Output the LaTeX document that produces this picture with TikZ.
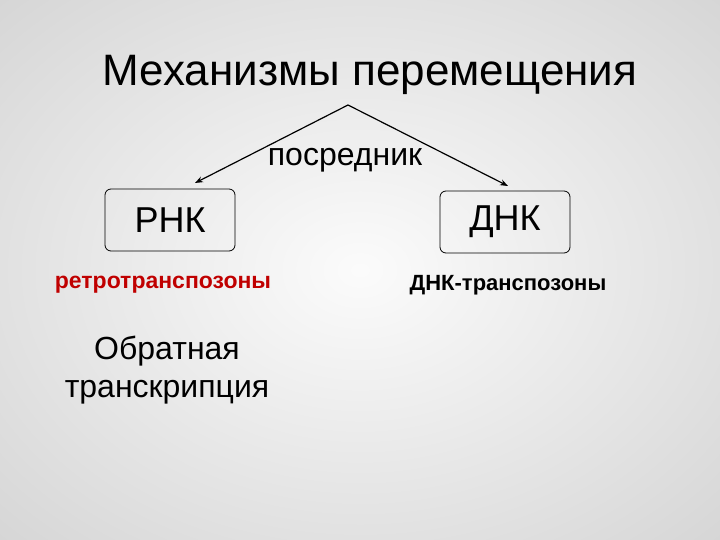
\documentclass[tikz,border=0pt]{standalone}
\usepackage{fontspec}
\setmainfont{Liberation Sans}
\usetikzlibrary{arrows.meta}
\definecolor{dred}{RGB}{192,0,0}
\begin{document}
\begin{tikzpicture}[x=1pt,y=-1pt,
  box/.style={draw,thick,rounded corners=6pt,minimum width=130pt,minimum height=62pt,font=\fontsize{36}{40}\selectfont},
  arr/.style={very thick,-{Stealth[length=8pt,width=6pt]}}]
\useasboundingbox (0,0) rectangle (720,540);
\shade[inner color=white!97!gray,outer color=gray!35] (-200,-150) rectangle (920,690);
\node (title) at (370,75) {\fontsize{44}{48}\selectfont Механизмы перемещения};
\coordinate (apex) at (348,105);
\node (posr) at (345,160) {\fontsize{32}{36}\selectfont посредник};
\node[box] (rnk) at (170,220) {РНК};
\node[box] (dnk) at (505,222) {ДНК};
\draw[arr] (apex) -- (195,183);
\draw[arr] (apex) -- (508,186);
\node[text=dred] (retro) at (163,285) {\fontsize{23}{27}\selectfont\bfseries ретротранспозоны};
\node (dnkt) at (508,285) {\fontsize{22}{26}\selectfont\bfseries ДНК-транспозоны};
\node[align=center,font=\fontsize{32}{38}\selectfont] (obr) at (167,370) {Обратная\\транскрипция};
\end{tikzpicture}
\end{document}
